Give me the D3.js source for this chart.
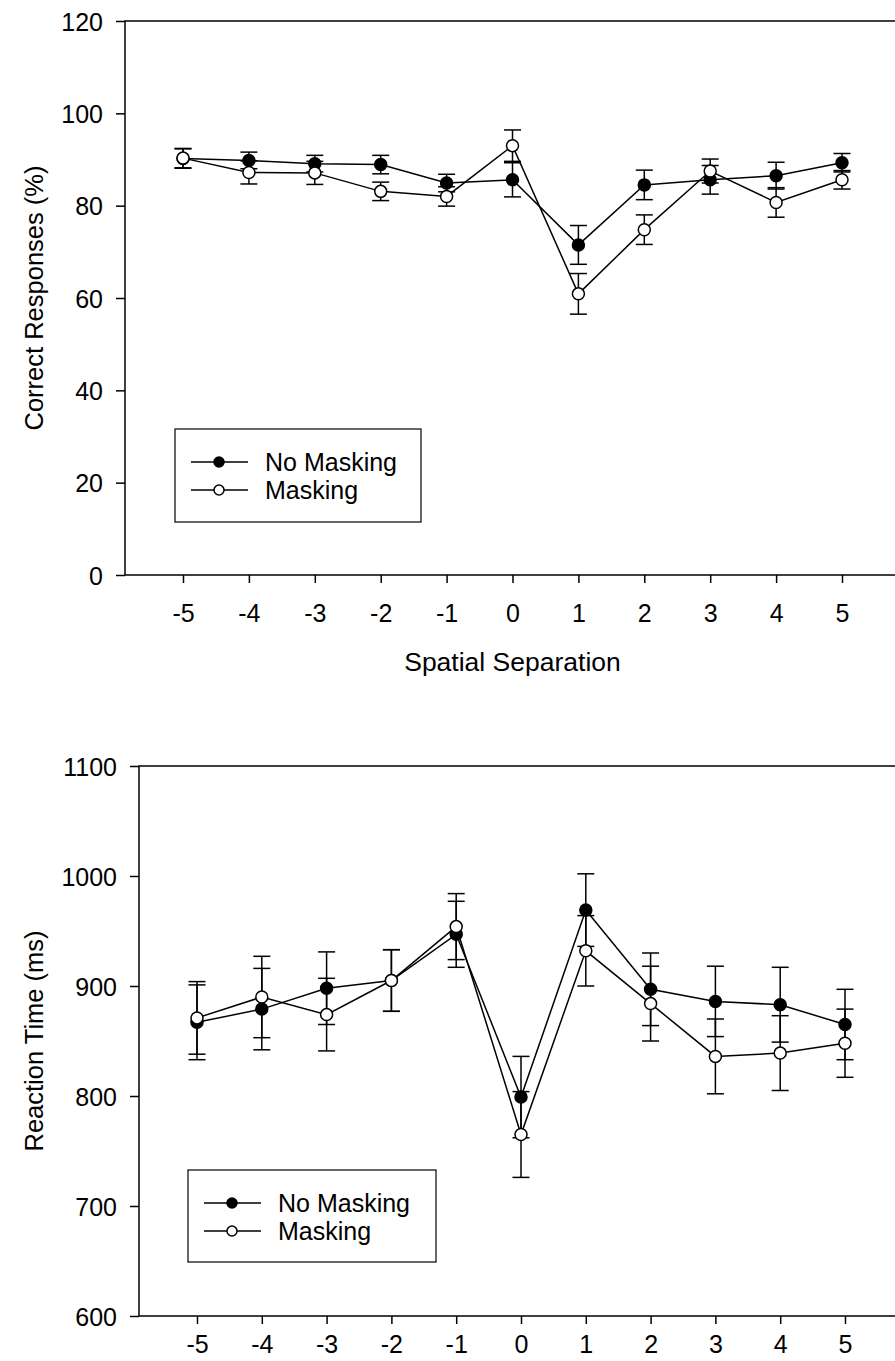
<!DOCTYPE html>
<html>
<head>
<meta charset="utf-8">
<script src="https://cdn.jsdelivr.net/npm/d3@7"></script>
<style>
body{margin:0;background:#fff}
svg{display:block}
text{font-family:"Liberation Sans",Arial,sans-serif;fill:#000}
</style>
</head>
<body>
<div id="diagram"></div>
<script>
var separation = [-5,-4,-3,-2,-1,0,1,2,3,4,5]

// correct responses (%)
var correctNoMasking = [90.2,89.8,89.1,88.9,84.9,85.6,71.5,84.5,85.6,86.5,89.3]
var correctNoMaskingErr = [2.1,1.8,1.8,2.0,1.9,3.7,4.2,3.2,3.1,2.9,2.0]
var correctMasking = [90.3,87.2,87.1,83.1,82.0,93.0,60.9,74.8,87.5,80.7,85.6]
var correctMaskingErr = [2.1,2.5,2.5,2.0,2.1,3.4,4.4,3.2,2.6,3.2,2.0]

// reaction time (ms)
var rtNoMasking = [867,879,898,905,947,799,969,897,886,883,865]
var rtNoMaskingErr = [34,37,33,28,30,37,33,33,32,34,32]
var rtMasking = [871,890,874,905,954,765,932,884,836,839,848]
var rtMaskingErr = [33,37,33,28,30,39,32,34,34,34,31]

var correctTicks = [0,20,40,60,80,100,120]
var rtTicks = [600,700,800,900,1000,1100]
var legendLabels = ["No Masking","Masking"]

var width = 895
var height = 1361
var svg = d3.select("#diagram").append("svg").attr("width",width).attr("height",height)

drawPanel({
	left:125, top:21, bottom:575, xFirst:183, xLast:842,
	yDomain:[0,120], yTicks:correctTicks, yTitle:"Correct Responses (%)",
	xTitle:"Spatial Separation", labelY:622,
	legend:{x:175,y:429,w:246,h:93},
	series:[
		{values:correctNoMasking, err:correctNoMaskingErr, fill:"#000"},
		{values:correctMasking, err:correctMaskingErr, fill:"#fff"}
	]
})

drawPanel({
	left:139, top:766, bottom:1316, xFirst:197, xLast:845,
	yDomain:[600,1100], yTicks:rtTicks, yTitle:"Reaction Time (ms)",
	xTitle:null, labelY:1353,
	legend:{x:188,y:1170,w:248,h:92},
	series:[
		{values:rtNoMasking, err:rtNoMaskingErr, fill:"#000"},
		{values:rtMasking, err:rtMaskingErr, fill:"#fff"}
	]
})

function drawPanel(p){
	var x = d3.scaleLinear().domain([-5,5]).range([p.xFirst,p.xLast])
	var y = d3.scaleLinear().domain(p.yDomain).range([p.bottom,p.top])
	var g = svg.append("g")

	// frame: left axis, top line, bottom axis (right side runs off the page)
	g.append("path")
		.attr("d","M"+width+","+p.top+"H"+p.left+"V"+p.bottom+"H"+width)
		.attr("fill","none").attr("stroke","#000").attr("stroke-width",1.5)

	var yAxis = g.append("g").attr("transform","translate("+p.left+",0)")
		.call(d3.axisLeft(y).tickValues(p.yTicks).tickSize(9).tickPadding(13)
			.tickFormat(function(d){return String(d)}))
	yAxis.select(".domain").remove()
	yAxis.selectAll("line").attr("stroke-width",1.5)
	yAxis.selectAll("text").attr("font-size",25).attr("font-family",null).attr("dy","0.36em")

	var xAxis = g.append("g").attr("transform","translate(0,"+p.bottom+")")
		.call(d3.axisBottom(x).tickValues(separation).tickSize(8)
			.tickFormat(function(d){return String(d)}))
	xAxis.select(".domain").remove()
	xAxis.selectAll("line").attr("stroke-width",1.5)
	xAxis.selectAll("text").attr("font-size",25).attr("font-family",null)
		.attr("y",p.labelY-p.bottom).attr("dy",null)

	g.append("text").text(p.yTitle)
		.attr("transform","translate(43,"+((p.top+p.bottom)/2)+") rotate(-90)")
		.attr("text-anchor","middle").attr("font-size",25.5)

	if(p.xTitle){
		g.append("text").text(p.xTitle)
			.attr("x",x(0)).attr("y",p.labelY+49)
			.attr("text-anchor","middle").attr("font-size",26.5)
	}

	var line = d3.line()
		.x(function(d,i){return x(separation[i])})
		.y(function(d){return y(d)})

	p.series.forEach(function(s){
		g.append("path").attr("d",line(s.values))
			.attr("fill","none").attr("stroke","#000").attr("stroke-width",1.5)
	})

	p.series.forEach(function(s){
		var bars = g.append("g").attr("stroke","#000").attr("stroke-width",1.5)
		s.values.forEach(function(v,i){
			var cx = x(separation[i])
			var hi = y(v+s.err[i]), lo = y(v-s.err[i])
			bars.append("line").attr("x1",cx).attr("x2",cx).attr("y1",hi).attr("y2",lo)
			bars.append("line").attr("x1",cx-8.5).attr("x2",cx+8.5).attr("y1",hi).attr("y2",hi)
			bars.append("line").attr("x1",cx-8.5).attr("x2",cx+8.5).attr("y1",lo).attr("y2",lo)
		})
	})

	p.series.forEach(function(s){
		g.append("g").selectAll("circle").data(s.values).enter().append("circle")
			.attr("cx",function(d,i){return x(separation[i])})
			.attr("cy",function(d){return y(d)})
			.attr("r",6)
			.attr("fill",s.fill).attr("stroke","#000").attr("stroke-width",1.5)
	})

	// legend
	var L = p.legend
	g.append("rect").attr("x",L.x).attr("y",L.y).attr("width",L.w).attr("height",L.h)
		.attr("fill","#fff").attr("stroke","#000").attr("stroke-width",1.2)
	p.series.forEach(function(s,i){
		var ly = L.y + 33 + i*28
		g.append("line").attr("x1",L.x+16).attr("x2",L.x+73).attr("y1",ly).attr("y2",ly)
			.attr("stroke","#000").attr("stroke-width",1.5)
		g.append("circle").attr("cx",L.x+44).attr("cy",ly).attr("r",5)
			.attr("fill",s.fill).attr("stroke","#000").attr("stroke-width",1.5)
		g.append("text").text(legendLabels[i]).attr("x",L.x+90).attr("y",ly+9)
			.attr("font-size",25)
	})
}
</script>
</body>
</html>
